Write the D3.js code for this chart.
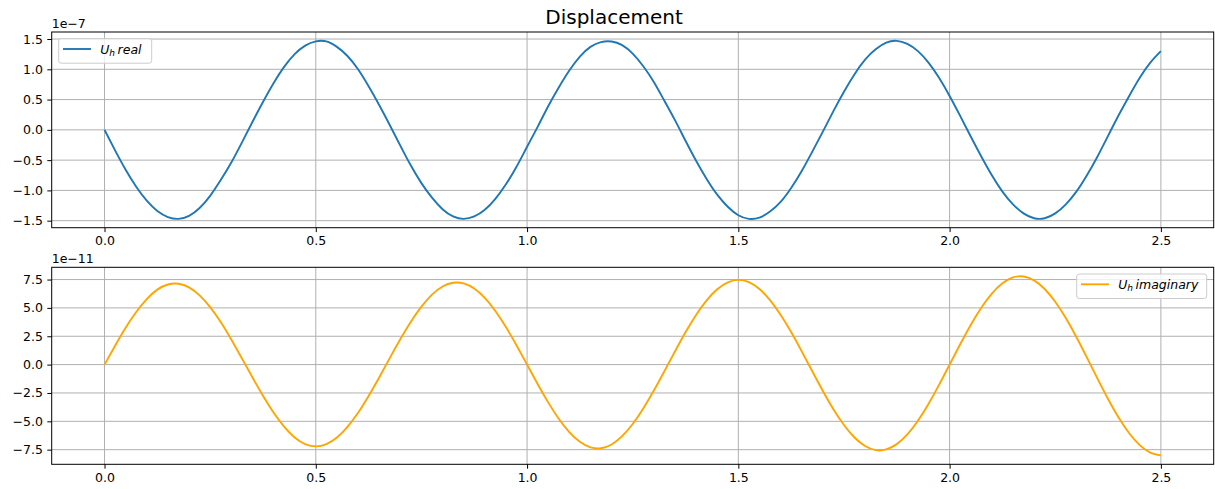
<!DOCTYPE html>
<html>
<head>
<meta charset="utf-8">
<script src="https://cdn.jsdelivr.net/npm/d3@7"></script>
<style>
  html, body { margin: 0; padding: 0; background: #fff; }
  svg { display: block; font-family: "DejaVu Sans", sans-serif; }
</style>
</head>
<body>
<svg id="chart" width="1215" height="489"></svg>
<script>
// Time samples (s)
const time = [
  0.000, 0.025, 0.050, 0.075, 0.100, 0.125, 0.150, 0.175, 0.200, 0.225,
  0.250, 0.275, 0.300, 0.325, 0.350, 0.375, 0.400, 0.425, 0.450, 0.475,
  0.500, 0.525, 0.550, 0.575, 0.600, 0.625, 0.650, 0.675, 0.700, 0.725,
  0.750, 0.775, 0.800, 0.825, 0.850, 0.875, 0.900, 0.925, 0.950, 0.975,
  1.000, 1.025, 1.050, 1.075, 1.100, 1.125, 1.150, 1.175, 1.200, 1.225,
  1.250, 1.275, 1.300, 1.325, 1.350, 1.375, 1.400, 1.425, 1.450, 1.475,
  1.500, 1.525, 1.550, 1.575, 1.600, 1.625, 1.650, 1.675, 1.700, 1.725,
  1.750, 1.775, 1.800, 1.825, 1.850, 1.875, 1.900, 1.925, 1.950, 1.975,
  2.000, 2.025, 2.050, 2.075, 2.100, 2.125, 2.150, 2.175, 2.200, 2.225,
  2.250, 2.275, 2.300, 2.325, 2.350, 2.375, 2.400, 2.425, 2.450, 2.475,
  2.500
];

// Real part of U_h, in units of 1e-7
const realExp = -7;
const realValues = [
   0.00, -0.34, -0.66, -0.94, -1.17, -1.34, -1.44, -1.47, -1.42, -1.29,
  -1.09, -0.83, -0.54, -0.21,  0.13,  0.46,  0.77,  1.04,  1.25,  1.39,
   1.46,  1.46,  1.37,  1.22,  1.00,  0.72,  0.41,  0.08, -0.26, -0.59,
  -0.88, -1.12, -1.31, -1.43, -1.47, -1.43, -1.32, -1.14, -0.90, -0.61,
  -0.28,  0.05,  0.39,  0.70,  0.98,  1.21,  1.37,  1.45,  1.46,  1.40,
   1.26,  1.05,  0.79,  0.48,  0.16, -0.18, -0.51, -0.81, -1.07, -1.27,
  -1.41, -1.47, -1.45, -1.35, -1.19, -0.96, -0.68, -0.36, -0.03,  0.31,
   0.63,  0.92,  1.16,  1.33,  1.44,  1.47,  1.42,  1.30,  1.11,  0.86,
   0.56,  0.23, -0.11, -0.44, -0.75, -1.02, -1.23, -1.38, -1.46, -1.46,
  -1.38, -1.23, -1.02, -0.75, -0.44, -0.10,  0.24,  0.56,  0.86,  1.11,
   1.30
];

// Imaginary part of U_h, in units of 1e-11
const imagExp = -11;
const imagValues = [
   0.00,  1.67,  3.25,  4.64,  5.78,  6.61,  7.06,  7.13,  6.81,  6.10,
   5.07,  3.75,  2.22,  0.56, -1.12, -2.75, -4.23, -5.47, -6.42, -7.01,
  -7.21, -7.01, -6.43, -5.49, -4.25, -2.76, -1.13,  0.57,  2.23,  3.78,
   5.11,  6.17,  6.89,  7.22,  7.16,  6.71,  5.88,  4.73,  3.31,  1.70,
   0.00, -1.71, -3.33, -4.77, -5.95, -6.81, -7.29, -7.37, -7.04, -6.31,
  -5.24, -3.87, -2.29, -0.58,  1.16,  2.85,  4.38,  5.67,  6.65,  7.26,
   7.47,  7.27,  6.66,  5.69,  4.40,  2.87,  1.17, -0.59, -2.32, -3.93,
  -5.32, -6.43, -7.18, -7.54, -7.48, -7.01, -6.16, -4.95, -3.47, -1.79,
   0.00,  1.79,  3.50,  5.02,  6.26,  7.17,  7.69,  7.77,  7.43,  6.67,
   5.54,  4.10,  2.43,  0.62, -1.23, -3.03, -4.67, -6.05, -7.10, -7.76,
  -8.00
];

// Axis ticks and limits
const xTicks = [0.0, 0.5, 1.0, 1.5, 2.0, 2.5];
const xLimits = [-0.125, 2.625];
const realTicks = [-1.5, -1.0, -0.5, 0.0, 0.5, 1.0, 1.5];
const realLimits = [-1.616, 1.616];
const imagTicks = [-7.5, -5.0, -2.5, 0.0, 2.5, 5.0, 7.5];
const imagLimits = [-8.79, 8.58];

const titleText = "Displacement";

const svg = d3.select("#chart");
const fmtTick = v => d3.format(".1f")(v).replace("-", "\u2212");

// Title
svg.append("text")
  .attr("x", 614).attr("y", 24)
  .attr("text-anchor", "middle")
  .attr("font-size", 20)
  .attr("fill", "#000")
  .text(titleText);

function panel(opts) {
  const { box, yTicks, yLimits, values, exp, color, label, legendSide } = opts;
  const g = svg.append("g");

  const x = d3.scaleLinear().domain(xLimits).range([box.x0, box.x1]);
  const y = d3.scaleLinear().domain(yLimits).range([box.y1, box.y0]);

  // Grid
  g.append("g").selectAll("line.vx").data(xTicks).join("line")
    .attr("x1", d => x(d)).attr("x2", d => x(d))
    .attr("y1", box.y0).attr("y2", box.y1)
    .attr("stroke", "#b0b0b0").attr("stroke-width", 1);
  g.append("g").selectAll("line.hy").data(yTicks).join("line")
    .attr("x1", box.x0).attr("x2", box.x1)
    .attr("y1", d => y(d)).attr("y2", d => y(d))
    .attr("stroke", "#b0b0b0").attr("stroke-width", 1);

  // Data line
  const pts = time.map((t, i) => [t, values[i]]);
  const line = d3.line().x(d => x(d[0])).y(d => y(d[1])).curve(d3.curveNatural);
  g.append("path")
    .datum(pts)
    .attr("d", line)
    .attr("fill", "none")
    .attr("stroke", color)
    .attr("stroke-width", 1.9)
    .attr("stroke-linejoin", "round")
    .attr("stroke-linecap", "butt");

  // Axes
  const xAxis = d3.axisBottom(x).tickValues(xTicks).tickFormat(fmtTick)
    .tickSizeInner(4.4).tickSizeOuter(0).tickPadding(4.4);
  const yAxis = d3.axisLeft(y).tickValues(yTicks).tickFormat(fmtTick)
    .tickSizeInner(4.4).tickSizeOuter(0).tickPadding(4.4);

  const gx = g.append("g").attr("transform", `translate(0,${box.y1})`).call(xAxis);
  const gy = g.append("g").attr("transform", `translate(${box.x0},0)`).call(yAxis);
  [gx, gy].forEach(a => {
    a.select(".domain").remove();
    a.selectAll("text").attr("font-size", 12.5).attr("fill", "#000")
      .attr("font-family", "DejaVu Sans, sans-serif");
    a.selectAll("line").attr("stroke", "#000").attr("stroke-width", 1);
  });
  gx.selectAll("text").attr("dy", "0.72em");

  // Frame
  g.append("rect")
    .attr("x", box.x0).attr("y", box.y0)
    .attr("width", box.x1 - box.x0).attr("height", box.y1 - box.y0)
    .attr("fill", "none").attr("stroke", "#000").attr("stroke-width", 1);

  // Offset text
  g.append("text")
    .attr("x", box.x0).attr("y", box.y0 - 4.5)
    .attr("font-size", 12.5).attr("fill", "#000")
    .text("1e\u2212" + Math.abs(exp));

  // Legend
  const lw = label === "real" ? 93 : 130;
  const lh = 24.5;
  const lx = legendSide === "left" ? box.x0 + 7 : box.x1 - 7 - lw;
  const ly = box.y0 + 6.7;
  const lg = g.append("g");
  lg.append("rect")
    .attr("x", lx).attr("y", ly).attr("width", lw).attr("height", lh)
    .attr("rx", 2.5).attr("ry", 2.5)
    .attr("fill", "#fff").attr("fill-opacity", 0.8)
    .attr("stroke", "#cccccc").attr("stroke-width", 1);
  lg.append("line")
    .attr("x1", lx + 4.3).attr("x2", lx + 32.3)
    .attr("y1", ly + 10.3).attr("y2", ly + 10.3)
    .attr("stroke", color).attr("stroke-width", 1.9);
  const lt = lg.append("text")
    .attr("x", lx + 41.5).attr("y", ly + 14.8)
    .attr("font-size", 12.5).attr("font-style", "italic").attr("fill", "#000");
  lt.append("tspan").text("U");
  lt.append("tspan").attr("font-size", 9).attr("dy", 2.6).text("h");
  lt.append("tspan").attr("dy", -2.6).attr("dx", 2.5).text(label);
}

panel({
  box: { x0: 51.7, x1: 1213.7, y0: 32, y1: 227.7 },
  yTicks: realTicks, yLimits: realLimits,
  values: realValues, exp: realExp,
  color: "#1f77b4", label: "real", legendSide: "left"
});

panel({
  box: { x0: 51.7, x1: 1213.7, y0: 267.3, y1: 464.3 },
  yTicks: imagTicks, yLimits: imagLimits,
  values: imagValues, exp: imagExp,
  color: "#ffa500", label: "imaginary", legendSide: "right"
});
</script>
</body>
</html>
